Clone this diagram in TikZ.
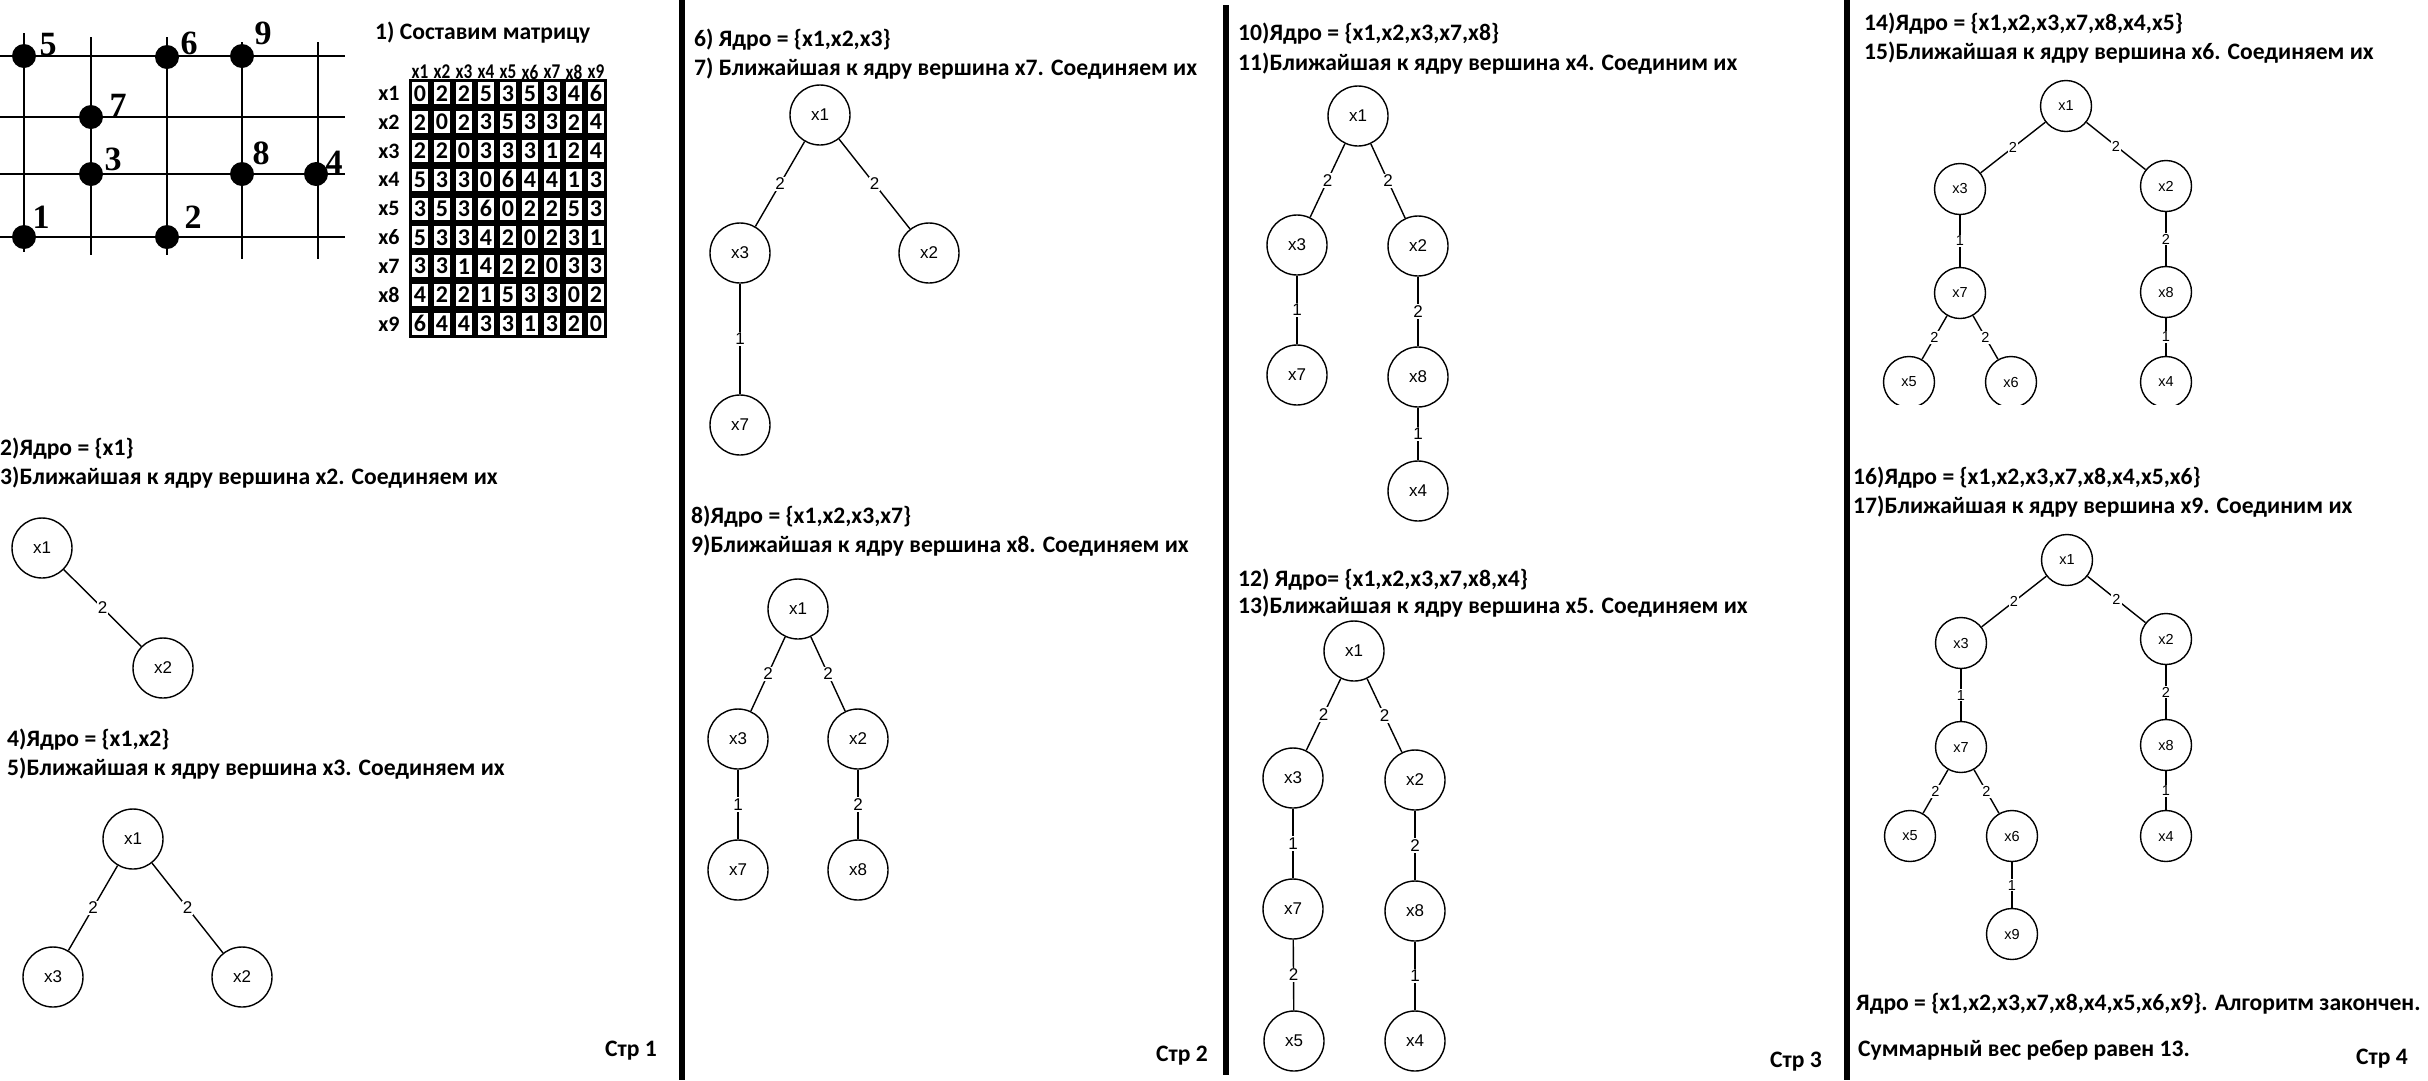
\documentclass[tikz,border=0pt]{standalone}
\usepackage{fontspec}
\setmainfont{Carlito}
\newfontfamily\arialf{Liberation Sans}
\newfontfamily\timesf{Liberation Serif}
\begin{document}
\begin{tikzpicture}[x=1pt,y=-1pt,
  hdr/.style={anchor=west, inner sep=0pt, font=\fontsize{23.6}{25}\selectfont\bfseries},
  pagelab/.style={anchor=west, inner sep=0pt, font=\fontsize{23.6}{25}\selectfont\bfseries},
  vtx/.style={circle, draw, line width=1.4pt, minimum size=60pt, inner sep=0pt, font=\arialf\fontsize{17}{17}\selectfont},
  vtxs/.style={vtx, minimum size=51pt, font=\arialf\fontsize{14.5}{15}\selectfont},
  wt/.style={fill=white, inner sep=1.2pt, font=\arialf\fontsize{17}{17}\selectfont},
  wts/.style={wt, inner sep=1pt, font=\arialf\fontsize{14.5}{15}\selectfont},
  edge/.style={line width=1.4pt},
  divider/.style={line width=6pt},
  gridline/.style={line width=2.2pt},
  dot/.style={circle, fill=black, minimum size=24pt, inner sep=0pt},
  glab/.style={font=\timesf\bfseries\fontsize{34}{34}\selectfont, inner sep=0pt},
  cell/.style={fill=white, minimum width=16pt, minimum height=22pt, inner sep=0pt, font=\fontsize{24}{24}\selectfont\bfseries},
  mhead/.style={inner sep=0pt, xscale=0.82, font=\fontsize{21}{21}\selectfont\bfseries},
  mrow/.style={inner sep=0pt, font=\fontsize{22}{22}\selectfont\bfseries}
]
\useasboundingbox (0,0) rectangle (2428,1080);
\fill[white] (0,0) rectangle (2428,1080);

% panel dividers
\draw[divider] (682,0) -- (682,1080);
\draw[divider] (1226,5) -- (1226,1075);
\draw[divider] (1847,0) -- (1847,1080);

% ---------- Panel 1: grid ----------
\foreach \yy in {56,117,174,237} \draw[gridline] (0,\yy) -- (345,\yy);
\draw[gridline] (24,33) -- (24,252);
\draw[gridline] (91,37) -- (91,255);
\draw[gridline] (167,37) -- (167,255);
\draw[gridline] (242,42) -- (242,259);
\draw[gridline] (318,42) -- (318,259);
\node[dot] (g5) at (24,56) {};
\node[dot] (g6) at (167,57) {};
\node[dot] (g9) at (242,56) {};
\node[dot] (g7) at (91,117) {};
\node[dot] (g3) at (91,174) {};
\node[dot] (g8) at (242,174) {};
\node[dot] (g4) at (316,174) {};
\node[dot] (g1) at (24,237) {};
\node[dot] (g2) at (167,237) {};
\node[glab] (n5) at (48,45) {5};
\node[glab] (n6) at (189,43) {6};
\node[glab] (n9) at (263,33) {9};
\node[glab] (n7) at (118,105) {7};
\node[glab] (n3) at (113,159) {3};
\node[glab] (n8) at (261,153) {8};
\node[glab] (n4) at (334,162) {4};
\node[glab] (n1) at (41,217) {1};
\node[glab] (n2) at (193,217) {2};

% ---------- Panel 1: matrix ----------
\node[hdr] (t1) at (375,33) {1) Составим матрицу};
\fill[black] (409,79) rectangle (607,338);
\foreach \c in {1,...,9} \node[mhead] (ch\c) at ({398+22*\c},72) {x\c};
\foreach \c in {1,...,9} \node[mrow] (rh\c) at (389,{64.6+28.8*\c}) {x\c};
\foreach \row [count=\r from 0] in {{0,2,2,5,3,5,3,4,6},{2,0,2,3,5,3,3,2,4},{2,2,0,3,3,3,1,2,4},{5,3,3,0,6,4,4,1,3},{3,5,3,6,0,2,2,5,3},{5,3,3,4,2,0,2,3,1},{3,3,1,4,2,2,0,3,3},{4,2,2,1,5,3,3,0,2},{6,4,4,3,3,1,3,2,0}}{
  \foreach \v [count=\c from 0] in \row {
    \node[cell] (m-\r-\c) at ({420+22*\c},{93.4+28.8*\r}) {\v};
  }
}

% ---------- Panel 1: steps 2-5 ----------
\node[hdr] (t2) at (0,449) {2)Ядро = \{x1\}};
\node[hdr] (t3) at (0,478) {3)Ближайшая к ядру вершина x2. Соединяем их};
\node[vtx] (a1) at (42,548) {x1};
\node[vtx] (a2) at (163,668) {x2};
\draw[edge] (a1) -- node[wt]{2} (a2);

\node[hdr] (t4) at (7,740) {4)Ядро = \{x1,x2\}};
\node[hdr] (t5) at (7,769) {5)Ближайшая к ядру вершина x3. Соединяем их};
\node[vtx] (b1) at (133,839) {x1};
\node[vtx] (b3) at (53,977) {x3};
\node[vtx] (b2) at (242,977) {x2};
\draw[edge] (b1) -- node[wt]{2} (b3);
\draw[edge] (b1) -- node[wt]{2} (b2);
\node[pagelab] (p1) at (605,1051) {Стр 1};

% ---------- Panel 2 ----------
\node[hdr] (t6) at (694,40) {6) Ядро = \{x1,x2,x3\}};
\node[hdr] (t7) at (694,69) {7) Ближайшая к ядру вершина x7. Соединяем их};
\node[vtx] (c1) at (820,115) {x1};
\node[vtx] (c3) at (740,253) {x3};
\node[vtx] (c2) at (929,253) {x2};
\node[vtx] (c7) at (740,425) {x7};
\draw[edge] (c1) -- node[wt]{2} (c3);
\draw[edge] (c1) -- node[wt]{2} (c2);
\draw[edge] (c3) -- node[wt]{1} (c7);

\node[hdr] (t8) at (691,517) {8)Ядро = \{x1,x2,x3,x7\}};
\node[hdr] (t9) at (691,546) {9)Ближайшая к ядру вершина x8. Соединяем их};
\node[vtx] (e1) at (798,609) {x1};
\node[vtx] (e3) at (738,739) {x3};
\node[vtx] (e2) at (858,739) {x2};
\node[vtx] (e7) at (738,870) {x7};
\node[vtx] (e8) at (858,870) {x8};
\draw[edge] (e1) -- node[wt]{2} (e3);
\draw[edge] (e1) -- node[wt]{2} (e2);
\draw[edge] (e3) -- node[wt]{1} (e7);
\draw[edge] (e2) -- node[wt]{2} (e8);
\node[pagelab] (p2) at (1156,1056) {Стр 2};

% ---------- Panel 3 ----------
\node[hdr] (t10) at (1238,34) {10)Ядро = \{x1,x2,x3,x7,x8\}};
\node[hdr] (t11) at (1238,64) {11)Ближайшая к ядру вершина x4. Соединим их};
\node[vtx] (f1) at (1358,116) {x1};
\node[vtx] (f3) at (1297,245) {x3};
\node[vtx] (f2) at (1418,246) {x2};
\node[vtx] (f7) at (1297,375) {x7};
\node[vtx] (f8) at (1418,377) {x8};
\node[vtx] (f4) at (1418,491) {x4};
\draw[edge] (f1) -- node[wt]{2} (f3);
\draw[edge] (f1) -- node[wt]{2} (f2);
\draw[edge] (f3) -- node[wt]{1} (f7);
\draw[edge] (f2) -- node[wt]{2} (f8);
\draw[edge] (f8) -- node[wt]{1} (f4);

\node[hdr] (t12) at (1238,580) {12) Ядро= \{x1,x2,x3,x7,x8,x4\}};
\node[hdr] (t13) at (1238,607) {13)Ближайшая к ядру вершина x5. Соединяем их};
\node[vtx] (h1) at (1354,651) {x1};
\node[vtx] (h3) at (1293,778) {x3};
\node[vtx] (h2) at (1415,780) {x2};
\node[vtx] (h7) at (1293,909) {x7};
\node[vtx] (h8) at (1415,911) {x8};
\node[vtx] (h5) at (1294,1041) {x5};
\node[vtx] (h4) at (1415,1041) {x4};
\draw[edge] (h1) -- node[wt]{2} (h3);
\draw[edge] (h1) -- node[wt]{2} (h2);
\draw[edge] (h3) -- node[wt]{1} (h7);
\draw[edge] (h2) -- node[wt]{2} (h8);
\draw[edge] (h7) -- node[wt]{2} (h5);
\draw[edge] (h8) -- node[wt]{1} (h4);
\node[pagelab] (p3) at (1770,1062) {Стр 3};

% ---------- Panel 4 ----------
\node[hdr] (t14) at (1864,24) {14)Ядро = \{x1,x2,x3,x7,x8,x4,x5\}};
\node[hdr] (t15) at (1864,53) {15)Ближайшая к ядру вершина x6. Соединяем их};
\node[vtxs] (i1) at (2066,106) {x1};
\node[vtxs] (i3) at (1960,189) {x3};
\node[vtxs] (i2) at (2166,186) {x2};
\node[vtxs] (i7) at (1960,293) {x7};
\node[vtxs] (i8) at (2166,292) {x8};
\node[vtxs] (i5) at (1909,382) {x5};
\node[vtxs] (i6) at (2011,382) {x6};
\node[vtxs] (i4) at (2166,382) {x4};
\draw[edge] (i1) -- node[wts]{2} (i3);
\draw[edge] (i1) -- node[wts]{2} (i2);
\draw[edge] (i3) -- node[wts]{1} (i7);
\draw[edge] (i2) -- node[wts]{2} (i8);
\draw[edge] (i7) -- node[wts]{2} (i5);
\draw[edge] (i7) -- node[wts]{2} (i6);
\draw[edge] (i8) -- node[wts]{1} (i4);
\fill[white] (1870,405) rectangle (2210,412);

\node[hdr] (t16) at (1853,478) {16)Ядро = \{x1,x2,x3,x7,x8,x4,x5,x6\}};
\node[hdr] (t17) at (1853,507) {17)Ближайшая к ядру вершина x9. Соединим их};
\node[vtxs] (j1) at (2067,560) {x1};
\node[vtxs] (j3) at (1961,643) {x3};
\node[vtxs] (j2) at (2166,639) {x2};
\node[vtxs] (j7) at (1961,747) {x7};
\node[vtxs] (j8) at (2166,745) {x8};
\node[vtxs] (j5) at (1910,836) {x5};
\node[vtxs] (j6) at (2012,836) {x6};
\node[vtxs] (j4) at (2166,836) {x4};
\node[vtxs] (j9) at (2012,934) {x9};
\draw[edge] (j1) -- node[wts]{2} (j3);
\draw[edge] (j1) -- node[wts]{2} (j2);
\draw[edge] (j3) -- node[wts]{1} (j7);
\draw[edge] (j2) -- node[wts]{2} (j8);
\draw[edge] (j7) -- node[wts]{2} (j5);
\draw[edge] (j7) -- node[wts]{2} (j6);
\draw[edge] (j8) -- node[wts]{1} (j4);
\draw[edge] (j6) -- node[wts]{1} (j9);

\node[hdr] (t18) at (1856,1004) {Ядро = \{x1,x2,x3,x7,x8,x4,x5,x6,x9\}. Алгоритм закончен.};
\node[hdr] (t19) at (1858,1050) {Суммарный вес ребер равен 13.};
\node[pagelab] (p4) at (2356,1059) {Стр 4};
\end{tikzpicture}
\end{document}
